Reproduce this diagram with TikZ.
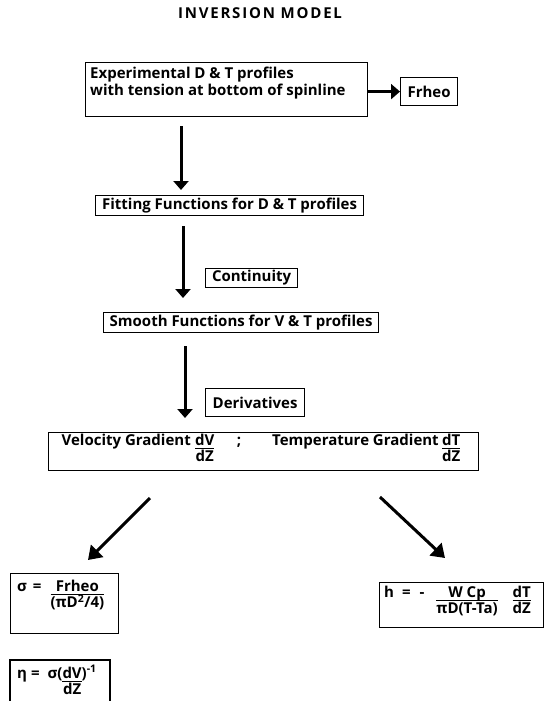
\documentclass[tikz,border=0pt]{standalone}
\usepackage{fontspec}
\setmainfont{Open Sans}
\newfontfamily\titlefont{Open Sans}[LetterSpace=12]
\usetikzlibrary{arrows.meta}
\setlength\arrayrulewidth{1pt}
\newcommand\tfr[2]{\begin{tabular}[t]{@{}c@{}}#1\\[-2pt]\hline\rule{0pt}{10.5pt}#2\end{tabular}}
\tikzset{
  box/.style={draw, line width=1.2pt, inner sep=0pt},
  lbl/.style={font=\bfseries\fontsize{15}{17}\selectfont, inner sep=0pt},
  arr/.style={line width=3pt, -{Triangle[length=9pt,width=15pt]}},
  darr/.style={line width=3pt, -{Triangle[length=13pt,width=17pt]}},
}
\begin{document}
\begin{tikzpicture}[x=1pt,y=-1pt]
\useasboundingbox (0,0) rectangle (544,701);
% title
\node[inner sep=0pt, font=\titlefont\bfseries\fontsize{15}{17}\selectfont] (title) at (260,13) {INVERSION MODEL};
% boxes
\node[box, anchor=north west, minimum width=282pt, minimum height=54pt] (b1) at (85,62) {};
\node[lbl, anchor=base west] (t1a) at (90,78) {Experimental D \& T profiles};
\node[lbl, anchor=base west] (t1b) at (90,95) {with tension at bottom of spinline};
\node[box, lbl, anchor=north west, minimum width=57pt, minimum height=28pt] (fr) at (400,77) {Frheo};
\node[box, lbl, anchor=north west, minimum width=268pt, minimum height=20pt] (b2) at (95,195) {Fitting Functions for D \& T profiles};
\node[box, lbl, anchor=north west, minimum width=92pt, minimum height=19pt] (cont) at (205,268) {Continuity};
\node[box, lbl, anchor=north west, minimum width=275pt, minimum height=20pt] (b3) at (103,312) {Smooth Functions for V \& T profiles};
\node[box, lbl, anchor=north west, minimum width=99pt, minimum height=28pt] (der) at (205,388) {Derivatives};
\node[box, anchor=north west, minimum width=430pt, minimum height=38pt] (b4) at (48,432) {};
\node[lbl, anchor=base east] (v1) at (191,445) {Velocity Gradient};
\node[lbl, anchor=base west] (v2) at (195,445) {\tfr{dV}{dZ}};
\node[lbl, anchor=base] (v3) at (239,445) {;};
\node[lbl, anchor=base west] (v4) at (272,445) {Temperature Gradient};
\node[lbl, anchor=base west] (v5) at ([xshift=3pt]v4.base east) {\tfr{dT}{dZ}};
\node[box, anchor=north west, minimum width=108pt, minimum height=60pt] (sig) at (10,573) {};
\node[lbl, anchor=base west] (tsig) at (17,591) {σ\hspace{6pt}=\hspace{9pt}\tfr{Frheo}{(πD\textsuperscript{2}/4)}};
\draw[line width=1.2pt] (10,705) -- (10,660) -- (110,660) -- (110,705);
\node[lbl, anchor=base west] (teta) at (17,678) {η\hspace{4pt}=\hspace{8pt}σ(\tfr{dV}{dZ})\textsuperscript{-1}};
\node[box, anchor=north west, minimum width=164pt, minimum height=45pt] (hb) at (379,582) {};
\node[lbl, anchor=base west] (th) at (384,597) {h\hspace{8pt}=\hspace{9pt}-\hspace{12pt}\tfr{W Cp}{πD(T-Ta)}\hspace{15pt}\tfr{dT}{dZ}};
% connectors
\coordinate (x1) at (181,0);
\coordinate (x2) at (183,0);
\coordinate (x3) at (185,0);
\draw[arr] (b1.east |- fr.west) -- (fr.west);
\draw[arr, shorten <=9pt, shorten >=5pt] (b1.south -| x1) -- (b2.north -| x1);
\draw[arr, shorten <=10pt, shorten >=14pt] (b2.south -| x2) -- (b3.north -| x2);
\draw[arr, shorten <=13pt, shorten >=14pt] (b3.south -| x3) -- (b4.north -| x3);
\coordinate (d1s) at (150,498);
\coordinate (d1e) at (88,560);
\coordinate (d2s) at (380,497);
\coordinate (d2e) at (445,558);
\draw[darr] (d1s) -- (d1e);
\draw[darr] (d2s) -- (d2e);
\end{tikzpicture}
\end{document}
